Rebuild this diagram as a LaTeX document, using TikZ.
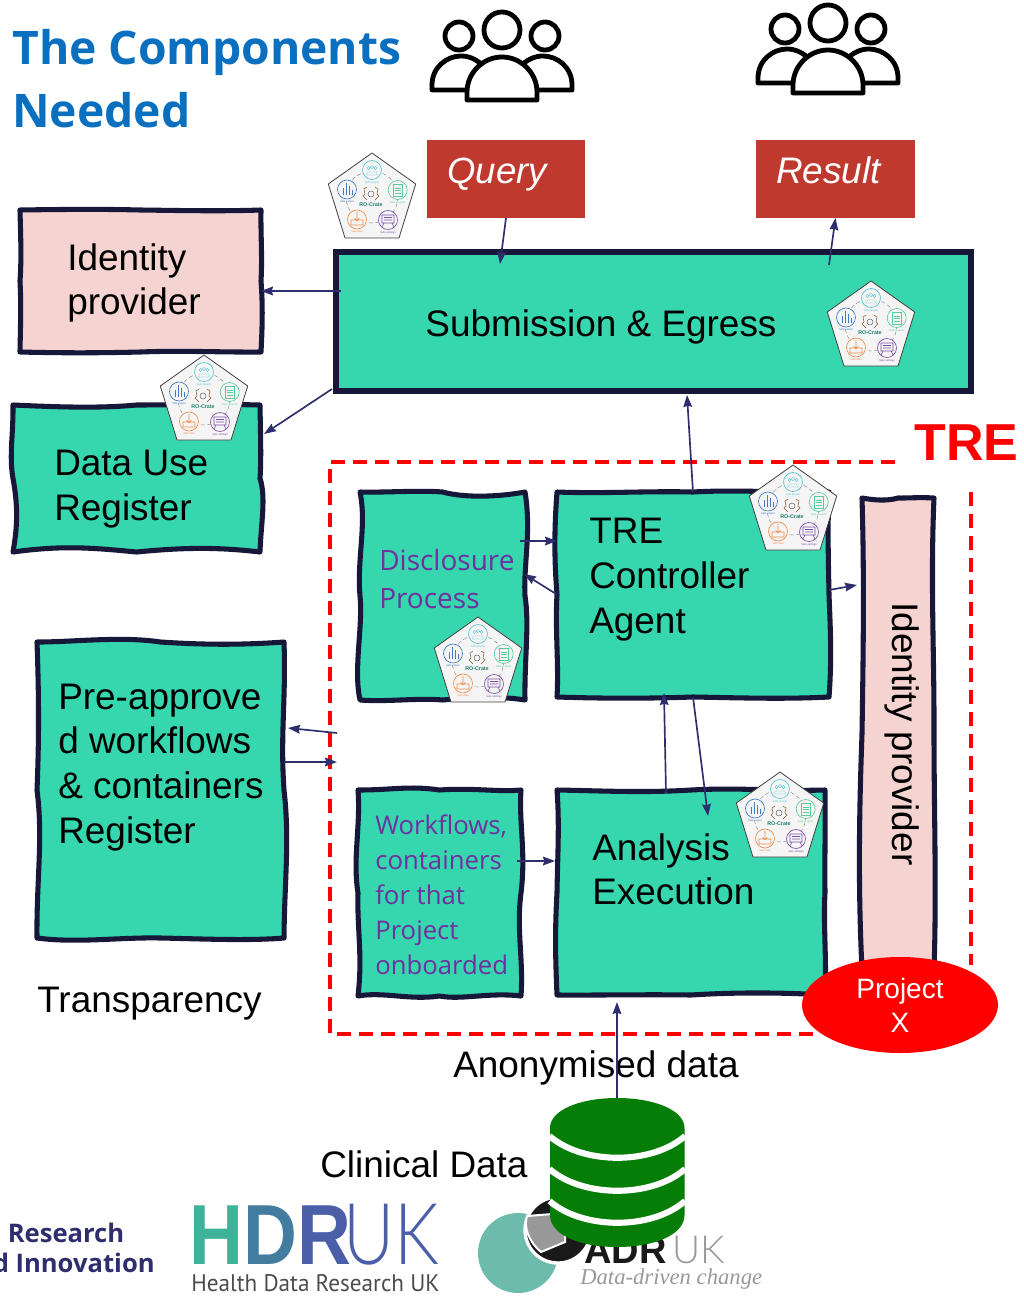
\documentclass[tikz,border=0pt]{standalone}
\usepackage{fontspec}
\usepackage{graphicx}
\setmainfont{Liberation Sans}
\newfontfamily\opensans{Open Sans}
\newfontfamily\thinsans{Lato Light}
\newfontfamily\narrowsans{PT Sans}
\newfontfamily\logoserif{Liberation Serif}
\usetikzlibrary{calc,arrows.meta,shapes.geometric}
\newcommand\px{.75pt}
\newcommand\waveto[3]{.. controls ($(#1)!.17!(#2)+(#3*rand,#3*rand)$) and ($(#1)!.33!(#2)+(#3*rand,#3*rand)$) .. ($(#1)!.5!(#2)$) .. controls ($(#1)!.67!(#2)+(#3*rand,#3*rand)$) and ($(#1)!.83!(#2)+(#3*rand,#3*rand)$) .. (#2)}
\newcommand\sketchbox[3]{\draw[sketchline,fill=#2] (#1.north west) \waveto{#1.north west}{#1.north east}{#3} \waveto{#1.north east}{#1.south east}{#3} \waveto{#1.south east}{#1.south west}{#3} \waveto{#1.south west}{#1.north west}{#3} -- cycle;}
\definecolor{boxteal}{HTML}{36D6AE}
\definecolor{pinkbox}{HTML}{F4D3D1}
\definecolor{inkline}{HTML}{17173A}
\definecolor{flowblue}{HTML}{2E2E6E}
\definecolor{brick}{HTML}{C0392E}
\definecolor{titleblue}{HTML}{0B6FC0}
\definecolor{purpletext}{HTML}{7030A0}
\definecolor{dbgreen}{HTML}{067D06}
\definecolor{hdrblue}{HTML}{4A5FA8}
\definecolor{adrteal}{HTML}{6DBBAD}
\definecolor{safecyan}{HTML}{52C5D0}
\definecolor{safegreen}{HTML}{5CCB9B}
\definecolor{safeviolet}{HTML}{7B4FA6}
\definecolor{safeorange}{HTML}{F08C4A}
\definecolor{safeblue}{HTML}{3E7CC4}
\tikzset{
	rocrate/.pic={
		\draw[fill=black!4,draw=black!75,line width=.6pt,line join=round] (0,-43) -- (43.7,-12) -- (27,42) -- (-27,42) -- (-43.7,-12) -- cycle;
		\draw[densely dashed,black!50,line width=.3pt] (0,1) circle[radius=26];
		\foreach \cx/\cy/\cc/\cl [count=\ci] in {0/-26/safecyan/Safe people,25.7/-6/safegreen/Safe projects,16/24/safeviolet/Safe settings,-15/23.5/safeorange/Safe data,-25/-6.5/safeblue/Safe output}{
			\node[circle,fill=black!4,draw=\cc,line width=.5pt,minimum size=19*\px,inner sep=0pt] (safe\ci) at (\cx,\cy) {};
			\node[inner sep=0pt,text=\cc,font=\fontsize{2}{2}\selectfont] (safetext\ci) at (\cx,\cy+12.5) {\cl};
		}
		\draw[safecyan,line width=.3pt] (-3.5,-28) circle[radius=1.7] (3.5,-28) circle[radius=1.7] (0,-29) circle[radius=1.7] (-6,-21) -- (6,-21) (-5,-21) -- (-5,-24) -- (5,-24) -- (5,-21);
		\draw[safegreen,line width=.4pt] (21.5,-12) rectangle (30,0) (23,-8) -- (28.5,-8) (23,-5.5) -- (28.5,-5.5) (23,-3) -- (28.5,-3);
		\draw[safeviolet,line width=.4pt] (10,19) rectangle (22,27) (12,21.5) -- (20,21.5) (12,24) -- (20,24) (12,27) -- (10,31) (20,27) -- (22,31);
		\draw[safeorange,line width=.4pt] (-21,24) -- (-21,29) -- (-9,29) -- (-9,24) -- cycle (-15,16) -- (-15,25) (-17.5,22) -- (-15,25) -- (-12.5,22);
		\draw[safeblue,line width=.6pt] (-29,-1) -- (-29,-8) (-26,-1) -- (-26,-13) (-23,-1) -- (-23,-10) (-20,-1) -- (-20,-6);
		\draw[brown!70!black,line width=.4pt] (-5,-9) -- (-8,-7) -- (-7,-2) -- (-9,0) -- (-7,2) -- (-5,4) (3,-9) -- (6,-7) -- (5,-2) -- (7,0) -- (5,2) -- (3,4);
		\draw[black!60,line width=.4pt] (-1,-2) circle[radius=3];
		\node[inner sep=0pt,text=boxteal!60!black,font=\fontsize{4}{4}\selectfont\bfseries] (cratename) at (-1,8.5) {RO-Crate};
	},
	crowd/.pic={
		\draw[black,line width=3.6pt,line join=round] (0,-27) circle[radius=18] (-43,-21) circle[radius=14] (43,-21) circle[radius=14];
		\draw[black,line width=3.6pt,line join=round] (-35,43) -- (-35,35) .. controls (-35,16) and (-19,0) .. (0,0) .. controls (19,0) and (35,16) .. (35,35) -- (35,43) -- cycle;
		\draw[black,line width=3.6pt,line join=round] (-35,33) -- (-70,33) -- (-70,28) .. controls (-70,10) and (-55,-1) .. (-41,-1) .. controls (-33,-1) and (-27,2) .. (-22,6);
		\draw[black,line width=3.6pt,line join=round] (35,33) -- (70,33) -- (70,28) .. controls (70,10) and (55,-1) .. (41,-1) .. controls (33,-1) and (27,2) .. (22,6);
	}
}
\begin{document}
\begin{tikzpicture}[x=.75pt,y=-.75pt,
	boxslot/.style={inner sep=0pt,outer sep=0pt},
	sketchline/.style={draw=inkline,line width=3.8pt,line join=round},
	redbox/.style={fill=brick,text=white,minimum width=#1*\px,minimum height=78*\px,inner sep=0pt,outer sep=0pt},
	bigtext/.style={font=\fontsize{27.7}{33.6}\selectfont,inner sep=0pt,align=left,anchor=north west},
	bigline/.style={font=\fontsize{27.7}{33.75}\selectfont,inner sep=0pt,anchor=base west},
	flow/.style={-{Stealth[length=9pt,width=6.5pt,inset=1pt]},draw=flowblue,line width=1.25pt},
	trezone/.style={draw=red,line width=2.3pt,dash pattern=on 10.5pt off 6pt}]
	\pgfmathsetseed{11}
	\useasboundingbox (0,0) rectangle (1024,1296);
	\node[anchor=north west,inner sep=0pt,align=left,text=titleblue,font=\opensans\bfseries\fontsize{34.7}{47.25}\selectfont] (title) at (12,29) {The Components\\Needed};
	\pic (crowdq) at (502,57) {crowd};
	\pic (crowdr) at (828,50) {crowd};
	\node[redbox=158] (query) at (506,179) {};
	\node[redbox=159] (result) at (835.5,179) {};
	\node[text=white,inner sep=0pt,anchor=base west,font=\fontsize{27.4}{33}\selectfont\itshape] (querytext) at (447,183) {Query};
	\node[text=white,inner sep=0pt,anchor=base west,font=\fontsize{27.7}{33}\selectfont\itshape] (resulttext) at (776,183) {Result};
	% boxes outside the zone
	\node[boxslot,minimum width=241*\px,minimum height=142*\px] (idp) at (140.5,281) {};
	\sketchbox{idp}{pinkbox}{2}
	\node[bigtext] (idptext) at ([shift={(47,33)}]idp.north west) {Identity\\provider};
	\node[draw=inkline,fill=boxteal,line width=3.8pt,inner sep=0pt,outer sep=0pt,minimum width=635*\px,minimum height=139*\px] (subm) at (653.5,321.5) {};
	\node[bigline,anchor=center] (submtext) at ([shift={(-52.5,5.5)}]subm.center) {Submission \& Egress};
	\node[boxslot,minimum width=247*\px,minimum height=147*\px] (dur) at (136.5,478.5) {};
	\sketchbox{dur}{boxteal}{7}
	\node[bigtext] (durtext) at ([shift={(41,45)}]dur.north west) {Data Use\\Register};
	\node[boxslot,minimum width=247*\px,minimum height=296*\px] (pre) at (160.5,790) {};
	\sketchbox{pre}{boxteal}{7}
	\node[bigtext] (pretext) at ([shift={(21,41.5)}]pre.north west) {Pre-approve\\d workflows\\\& containers\\Register};
	\node[bigline] (transp) at (37,1012) {Transparency};
	% the zone
	\coordinate (zonea) at (895,462);
	\coordinate (zoneb) at (330,462);
	\coordinate (zonec) at (330,1034);
	\coordinate (zoned) at (815,1034);
	\coordinate (zonee) at (971,492);
	\coordinate (zonef) at (971,965);
	\draw[trezone] (zonea) -- (zoneb) -- (zonec) -- (zoned) (zonee) -- (zonef);
	\node[inner sep=0pt,anchor=base west,text=red,font=\fontsize{39}{44}\selectfont\bfseries] (tre) at (914,460) {TRE};
	\node[boxslot,minimum width=165*\px,minimum height=208*\px] (disc) at (442.5,596) {};
	\sketchbox{disc}{boxteal}{7}
	\node[inner sep=0pt,align=left,anchor=north west,text=purpletext,font=\opensans\fontsize{21}{28.5}\selectfont] (disctext) at ([shift={(19,57)}]disc.north west) {Disclosure\\Process};
	\node[boxslot,minimum width=272*\px,minimum height=205*\px] (ctrl) at (693,594.5) {};
	\sketchbox{ctrl}{boxteal}{3}
	\node[bigtext] (ctrltext) at ([shift={(32,26)}]ctrl.north west) {TRE\\Controller\\Agent};
	\node[boxslot,minimum width=72*\px,minimum height=472*\px] (idv) at (898,734) {};
	\sketchbox{idv}{pinkbox}{4}
	\node[bigline,anchor=center,rotate=-90] (idvtext) at (902,734) {Identity provider};
	\node[boxslot,minimum width=163*\px,minimum height=206*\px] (wflow) at (439.5,893) {};
	\sketchbox{wflow}{boxteal}{6}
	\node[inner sep=0pt,align=left,anchor=north west,text=purpletext,font=\opensans\fontsize{19.3}{26.25}\selectfont] (wflowtext) at ([shift={(17,24.5)}]wflow.north west) {Workflows,\\containers\\for that\\Project\\onboarded};
	\node[boxslot,minimum width=268*\px,minimum height=205*\px] (anal) at (691,892.5) {};
	\sketchbox{anal}{boxteal}{3}
	\node[bigtext] (analtext) at ([shift={(35,43)}]anal.north west) {Analysis\\Execution};
	\node[ellipse,fill=red,minimum width=196*\px,minimum height=96*\px,inner sep=0pt] (projx) at (900,1005) {};
	\node[inner sep=0pt,align=center,text=white,font=\fontsize{21}{25.5}\selectfont] (projxtext) at (900,1005) {Project\\X};
	% logos
	\node[inner sep=0pt,anchor=base east,text=flowblue,font=\opensans\bfseries\fontsize{19.2}{24}\selectfont] (ukria) at (124.5,1242) {Research};
	\node[inner sep=0pt,anchor=base east,text=flowblue,font=\opensans\bfseries\fontsize{19.2}{24}\selectfont] (ukrib) at (155,1272) {d Innovation};
	\node[inner sep=0pt,anchor=base west,font=\fontsize{64}{70}\selectfont\bfseries] (hdr) at (189.5,1264) {\scalebox{.875}[1]{\textcolor[HTML]{3EB39A}{H}\textcolor[HTML]{427C9E}{D}\textcolor[HTML]{4A5FA8}{R}}};
	\node[inner sep=0pt,anchor=base west,text=hdrblue,font=\thinsans\fontsize{64}{70}\selectfont] (hdruk) at (343,1264) {\scalebox{.825}[1]{UK}};
	\node[inner sep=0pt,anchor=base west,text=black!70,font=\narrowsans\fontsize{18}{20}\selectfont] (hdrname) at (191,1291) {\scalebox{.965}[1]{Health Data Research UK}};
	\node[circle,fill=adrteal,minimum size=80*\px,inner sep=0pt] (adrdisc) at (518,1253) {};
	\node[circle,fill=black!90,draw=white,line width=2.5pt,minimum size=66*\px,inner sep=0pt] (adrring) at (558,1230) {};
	\draw[white,line width=1.5pt,fill=black!40] (527,1216) -- (565,1213) -- (565,1242) -- (541,1252) .. controls (530,1243) and (523,1228) .. (527,1216) -- cycle;
	\node[inner sep=0pt,anchor=base west,text=black!90,font=\fontsize{28.5}{30}\selectfont\bfseries] (adr) at (584,1263) {ADR};
	\node[inner sep=0pt,anchor=base west,text=black!40,font=\thinsans\fontsize{29}{30}\selectfont] (adruk) at (672,1263) {UK};
	\node[inner sep=0pt,anchor=base west,text=black!40,font=\logoserif\itshape\fontsize{17}{20}\selectfont] (adrtag) at (580,1284) {Data-driven change};
	% database
	\fill[dbgreen] (550,1128) .. controls (550,1110) and (580,1098) .. (617,1098) .. controls (654,1098) and (684.5,1110) .. (684.5,1128) -- (684.5,1215) .. controls (684.5,1235) and (654,1247) .. (617,1247) .. controls (580,1247) and (550,1235) .. (550,1215) -- cycle;
	\foreach \gy in {1136,1169,1201}
		\draw[white,line width=4.6pt] (549.5,\gy) .. controls (583,\gy+29) and (652,\gy+29) .. (685,\gy);
	\coordinate (dbtop) at (617,1098);
	\node[bigline] (anon) at (453,1077) {Anonymised data};
	\node[bigline] (clin) at (320,1177) {Clinical Data};
	% arrows
	\coordinate (freeback) at (337,733);
	\coordinate (freeout) at (337,762);
	\draw[flow] (query.south) -- ([shift={(-153.5,12)}]subm.north);
	\draw[flow] ([shift={(175.5,13)}]subm.north) -- (result.south);
	\draw[flow] ([shift={(5,-30.5)}]subm.west) -- ([shift={(0,10)}]idp.east);
	\draw[flow] ([shift={(-4,-2)}]subm.south west) -- ([shift={(4,29)}]dur.north east);
	\draw[flow] (ctrl.north) -- ([shift={(33.5,4)}]subm.south);
	\draw[flow] ([shift={(-5,-55)}]disc.east) -- ([shift={(0,-53.5)}]ctrl.west);
	\draw[flow] (ctrl.west) -- ([shift={(-1,-22)}]disc.east);
	\draw[flow] ([shift={(0,-4.5)}]ctrl.east) -- ([shift={(-5,-149)}]idv.west);
	\draw[flow] ([shift={(-25,3)}]anal.north) -- ([shift={(-29,-4)}]ctrl.south);
	\draw[flow] ([shift={(0,0)}]ctrl.south) -- ([shift={(17,26)}]anal.north);
	\draw[flow] ([shift={(-4,-32)}]wflow.east) -- ([shift={(-2,-31.5)}]anal.west);
	\draw[flow] (freeback) -- ([shift={(4,-62)}]pre.east);
	\draw[flow] ([shift={(0,-28)}]pre.east) -- (freeout);
	\draw[flow] (dbtop) -- ([shift={(-74,7)}]anal.south);
	% crates on top
	\pic (crateq) at (372,196) {rocrate};
	\pic (crates) at (871,324) {rocrate};
	\pic (crated) at (204,398) {rocrate};
	\pic (cratec) at (793,508) {rocrate};
	\pic (cratep) at (478,660) {rocrate};
	\pic (cratea) at (780,815) {rocrate};
\end{tikzpicture}
\end{document}
